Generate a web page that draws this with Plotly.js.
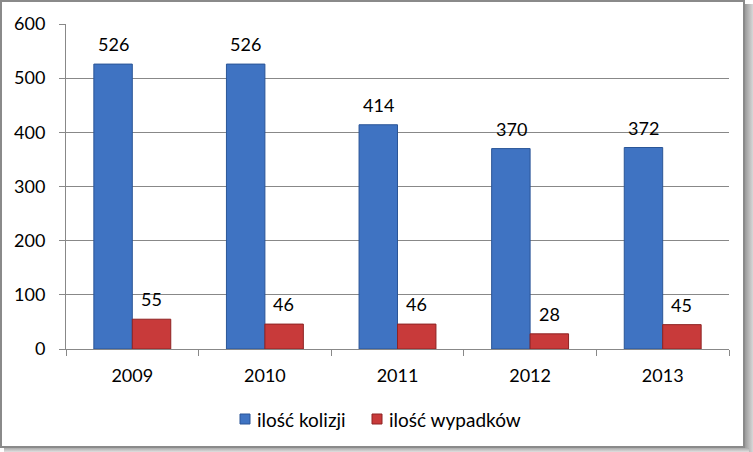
<!DOCTYPE html>
<html><head><meta charset="utf-8">
<script src="https://cdn.plot.ly/plotly-3.0.1.min.js"></script>
<style>
html,body{margin:0;padding:0;background:#fff;}
#wrap{position:relative;width:753px;height:452px;overflow:hidden;}
#frame{position:absolute;left:0;top:0;width:745px;height:448px;border:2px solid #8a8a8a;box-sizing:border-box;pointer-events:none;}
#shadow{position:absolute;left:745px;top:4px;width:8px;height:448px;background:linear-gradient(to right,#9a9a9a,#d8d8d8);pointer-events:none;}
#shadowb{position:absolute;left:4px;top:448px;width:745px;height:4px;background:linear-gradient(to bottom,#aaa,#e0e0e0);pointer-events:none;}
</style></head>
<body>
<div id="wrap"><div id="chart"></div><div id="frame"></div><div id="shadow"></div><div id="shadowb"></div></div>
<script>
var years = ['2009','2010','2011','2012','2013'];
var kolizje = [526,526,414,370,372];
var wypadki = [55,46,46,28,45];
var seriesNames = ['ilość kolizji','ilość wypadków'];
var seriesColors = ['#3f73c2','#c83a3a'];
var seriesLines = ['#2a5597','#8e2323'];

var font = 'Lato, "Open Sans", sans-serif';
var traces = [
  {type:'bar', name:seriesNames[0], x:years, y:kolizje,
   marker:{color:seriesColors[0], line:{color:seriesLines[0], width:1}}},
  {type:'bar', name:seriesNames[1], x:years, y:wypadki,
   marker:{color:seriesColors[1], line:{color:seriesLines[1], width:1}}}
];
var anns = [];
var barPx = 19;
years.forEach(function(yr,i){
  anns.push({x:i, y:kolizje[i], text:String(kolizje[i]), xref:'x', yref:'y', showarrow:false,
    xshift:-barPx, yshift:20, font:{family:font, size:18, color:'#000'}});
  anns.push({x:i, y:wypadki[i], text:String(wypadki[i]), xref:'x', yref:'y', showarrow:false,
    xshift:barPx, yshift:20, font:{family:font, size:18, color:'#000'}});
});
// custom legend (plot-area fractions)
function px2x(p){return (p-66)/663;}
function py2y(p){return (349-p)/325;}
var legendX = [240, 372];
var shapes = [];
seriesNames.forEach(function(n,k){
  var x0 = legendX[k];
  shapes.push({type:'rect', xref:'paper', yref:'paper', x0:px2x(x0), x1:px2x(x0+10),
    y0:py2y(424), y1:py2y(414), fillcolor:seriesColors[k], line:{color:seriesLines[k], width:1}});
  anns.push({xref:'paper', yref:'paper', x:px2x(x0+15), y:py2y(419), xanchor:'left', yanchor:'middle',
    text:n, showarrow:false, font:{family:font, size:19, color:'#000'}});
});
var layout = {
  width:753, height:452,
  margin:{l:66, r:24, t:24, b:103},
  paper_bgcolor:'#fff', plot_bgcolor:'#fff',
  barmode:'group', bargap:0.42, bargroupgap:0,
  font:{family:font, size:18, color:'#000'},
  showlegend:false,
  xaxis:{type:'category', categoryarray:years, categoryorder:'array', showgrid:false, showline:true, linecolor:'#888', linewidth:1,
    ticks:'outside', tickson:'boundaries', ticklen:6, tickcolor:'#888',
    tickfont:{family:font, size:18, color:'#000'}, ticklabelstandoff:10, tickangle:0, fixedrange:true},
  yaxis:{range:[0,600], dtick:100, showgrid:true, gridcolor:'#888', gridwidth:1,
    showline:true, linecolor:'#888', linewidth:1, ticks:'outside', ticklen:6, tickcolor:'#888',
    tickfont:{family:font, size:18, color:'#000'}, ticklabelstandoff:10, zeroline:false, fixedrange:true},
  annotations:anns,
  shapes:shapes
};
Plotly.newPlot('chart', traces, layout, {displayModeBar:false, staticPlot:true});
</script>
</body></html>
